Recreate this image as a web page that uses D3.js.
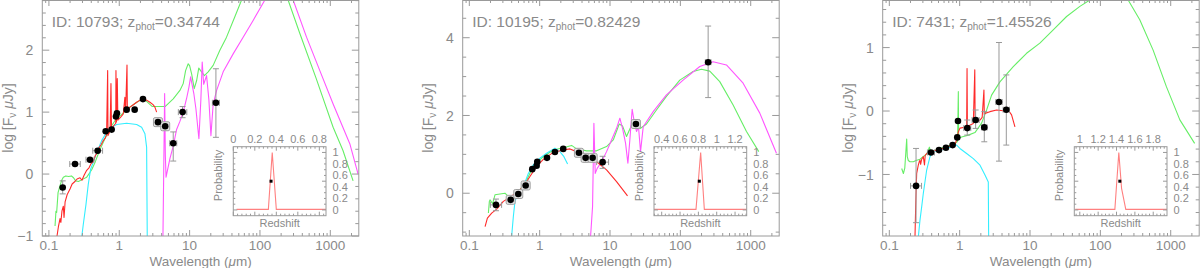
<!DOCTYPE html>
<html><head><meta charset="utf-8">
<script src="https://cdn.jsdelivr.net/npm/d3@7"></script>
<style>
html,body{margin:0;padding:0;background:#fff;}
svg{display:block;font-family:"Liberation Sans",Arial,sans-serif;}
</style></head><body>
<svg id="c" width="1200" height="268"></svg>
<script>
// ---------------- DATA ----------------
// curves and points: [log10 wavelength (um), log F_nu (uJy)]
const ids = ["10793", "10195", "7431"];
const zphot = ["0.34744", "0.82429", "1.45526"];
const wavelengthTicks = [0.1, 1, 10, 100, 1000];
const wavelengthTickLabels = ["0.1", "1", "10", "100", "1000"];
const fluxTicks1 = [-1, 0, 1, 2];
const fluxTicks2 = [0, 2, 4];
const fluxTicks3 = [-1, 0, 1];
const zTicks1 = [0, 0.2, 0.4, 0.6, 0.8];
const zTickLabels1 = ["0", "0.2", "0.4", "0.6", "0.8"];
const zTicks2 = [0.4, 0.6, 0.8, 1, 1.2];
const zTickLabels2 = ["0.4", "0.6", "0.8", "1", "1.2"];
const zTicks3 = [1, 1.2, 1.4, 1.6, 1.8];
const zTickLabels3 = ["1", "1.2", "1.4", "1.6", "1.8"];
const probTicks = [0, 0.2, 0.4, 0.6, 0.8, 1];
const probTickLabels = ["0", "0.2", "0.4", "0.6", "0.8", "1"];

// Panel 1
const green1 = [[-0.913,-0.84],[-0.9,-0.6],[-0.89,-0.62],[-0.87,-0.3],[-0.84,-0.18],[-0.818,-0.1],[-0.795,-0.05],[-0.76,-0.03],[-0.72,-0.04],[-0.68,-0.03],[-0.65,-0.06],[-0.62,-0.11],[-0.58,-0.12],[-0.53,-0.09],[-0.463,-0.05],[-0.42,0.02],[-0.392,0.07],[-0.34,0.2],[-0.28,0.38],[-0.2,0.58],[-0.12,0.76],[-0.05,0.88],[0.05,0.98],[0.15,1.08],[0.25,1.16],[0.34,1.22],[0.40,1.16],[0.47,1.09],[0.651,1.09],[0.767,1.215],[0.862,1.35],[0.909,1.46],[0.943,1.67],[0.98,1.78],[1.0,1.75],[1.03,1.61],[1.066,1.38],[1.10,1.51],[1.13,1.71],[1.17,1.65],[1.21,1.59],[1.264,1.65],[1.335,1.755],[1.43,2.0],[1.525,2.21],[1.643,2.54],[1.739,2.81],[1.85,3.1],[2.05,3.3],[2.3,3.1],[2.40,2.81],[2.567,2.27],[2.8,1.54],[3.04,0.755],[3.18,0.38],[3.324,-0.11]];
const magenta1 = [[0.62,-1.1],[0.645,1.3],[0.655,0.3],[0.665,-0.05],[0.72,0.25],[0.767,0.45],[0.815,0.72],[0.862,0.85],[0.909,1.0],[0.957,1.22],[0.99,1.40],[1.014,1.57],[1.043,1.40],[1.06,1.3],[1.09,1.05],[1.132,0.57],[1.16,1.2],[1.179,1.81],[1.20,1.45],[1.241,1.59],[1.274,1.2],[1.303,0.62],[1.335,1.13],[1.384,1.35],[1.477,1.65],[1.619,1.94],[1.761,2.21],[1.903,2.48],[2.07,2.81],[2.27,3.1],[2.472,2.81],[2.662,2.21],[2.851,1.67],[3.04,1.13],[3.277,0.49],[3.395,0.0]];
const cyan1 = [[-0.535,-1.03],[-0.511,-0.81],[-0.473,-0.49],[-0.44,-0.16],[-0.407,0.08],[-0.369,0.19],[-0.321,0.35],[-0.25,0.54],[-0.179,0.675],[-0.108,0.755],[-0.037,0.80],[0.105,0.82],[0.247,0.80],[0.318,0.755],[0.365,0.65],[0.389,0.43],[0.398,-1.03]];
const red1 = [[-0.889,-1.03],[-0.865,-0.85],[-0.842,-0.72],[-0.83,-0.78],[-0.815,-0.6],[-0.795,-0.52],[-0.785,-0.70],[-0.77,-0.45],[-0.74,-0.33],[-0.70,-0.24],[-0.67,-0.16],[-0.63,-0.12],[-0.60,-0.08],[-0.558,-0.06],[-0.53,-0.1],[-0.5,-0.02],[-0.463,0.06],[-0.43,0.1],[-0.40,0.17],[-0.37,0.2],[-0.34,0.3],[-0.32,0.33],[-0.29,0.42],[-0.26,0.47],[-0.227,0.54],[-0.2,0.58],[-0.18,0.64],[-0.165,1.67],[-0.16,0.62],[-0.13,0.70],[-0.118,1.46],[-0.11,0.72],[-0.08,0.78],[-0.05,0.82],[-0.047,1.67],[-0.04,0.84],[-0.028,1.54],[-0.02,0.87],[0.02,0.92],[0.057,0.97],[0.08,1.24],[0.09,1.0],[0.11,1.76],[0.115,1.03],[0.152,1.08],[0.2,1.12],[0.247,1.16],[0.29,1.19],[0.34,1.215],[0.39,1.19],[0.436,1.16],[0.48,1.12],[0.507,1.08],[0.531,1.0]];
// points: [log10 wavelength, log F, x error (dex), y low, y high]
const pts1 = [[-0.804,-0.216,0,-0.32,-0.11],[-0.629,0.162,0.075,0.162,0.162],[-0.416,0.231,0.057,0.231,0.231],[-0.307,0.377,0.07,0.377,0.377],[-0.193,0.691,0,0.691,0.691],[-0.108,0.718,0,0.718,0.718],[-0.047,0.929,0,0.929,0.929],[-0.033,0.98,0,0.98,0.98],[0.105,1.04,0,1.04,1.04],[0.219,1.04,0,1.04,1.04],[0.337,1.21,0,1.21,1.21],[0.55,0.838,0,0.838,0.838],[0.653,0.772,0,0.772,0.772],[0.767,0.497,0.05,0.21,0.68],[0.90,1.0,0.06,0.91,1.09],[1.374,1.15,0.05,0.593,1.70]];
const boxed1 = [11, 12];
const pz1 = [[0.03,0.01],[0.326,0.01],[0.362,1.0],[0.40,0.01],[0.862,0.01]];
const zdot1 = [0.351, 0.5];

// Panel 2
const green2 = [[-0.729,-0.51],[-0.715,-0.21],[-0.706,-0.17],[-0.668,-0.27],[-0.635,-0.04],[-0.564,-0.02],[-0.493,0.0],[-0.445,-0.09],[-0.374,-0.10],[-0.28,0.09],[-0.185,0.34],[-0.09,0.69],[0.052,0.94],[0.194,1.11],[0.336,1.17],[0.454,1.23],[0.525,1.14],[0.667,1.09],[0.809,1.09],[0.951,1.2],[1.046,1.37],[1.131,1.78],[1.178,1.73],[1.235,1.46],[1.282,1.65],[1.33,1.87],[1.386,1.78],[1.434,1.67],[1.519,1.78],[1.66,2.14],[1.802,2.49],[1.992,2.91],[2.181,3.13],[2.3,3.19],[2.418,3.14],[2.56,2.87],[2.75,2.27],[2.94,1.59],[3.115,1.07]];
const magenta2 = [[0.724,-1.10],[0.752,-0.34],[0.771,1.80],[0.79,0.51],[0.818,0.64],[0.88,0.81],[0.951,1.07],[1.022,1.37],[1.093,1.67],[1.14,1.93],[1.178,1.67],[1.221,1.29],[1.254,0.77],[1.282,1.37],[1.315,2.16],[1.344,1.84],[1.377,1.59],[1.405,1.71],[1.434,1.07],[1.472,1.71],[1.614,2.10],[1.802,2.53],[2.039,2.91],[2.276,3.26],[2.465,3.38],[2.655,3.30],[2.892,2.83],[3.129,2.06],[3.366,1.03]];
const cyan2 = [[-0.398,-1.10],[-0.374,-0.60],[-0.351,-0.21],[-0.327,-0.09],[-0.289,0.04],[-0.232,0.17],[-0.161,0.51],[-0.09,0.73],[0.004,0.90],[0.099,1.03],[0.217,1.16],[0.288,1.07],[0.345,0.94],[0.397,0.75]];
const red2 = [[-0.776,-0.86],[-0.743,-0.64],[-0.682,-0.51],[-0.611,-0.41],[-0.516,-0.21],[-0.421,-0.10],[-0.327,0.02],[-0.232,0.17],[-0.138,0.43],[-0.043,0.69],[0.052,0.87],[0.194,1.05],[0.336,1.11],[0.431,1.14],[0.525,1.07],[0.667,0.94],[0.809,0.81],[0.951,0.60],[1.093,0.30],[1.249,-0.07]];
const pts2 = [[-0.621,-0.30,0.08,-0.45,-0.15],[-0.412,-0.17,0.05,-0.17,-0.17],[-0.304,-0.02,0,-0.02,-0.02],[-0.199,0.2,0,0.2,0.2],[-0.105,0.62,0,0.62,0.62],[-0.043,0.71,0,0.71,0.71],[-0.034,0.81,0,0.81,0.81],[0.104,0.91,0,0.91,0.91],[0.217,1.06,0,1.06,1.06],[0.335,1.14,0,1.14,1.14],[0.558,1.04,0,1.04,1.04],[0.653,0.91,0,0.91,0.91],[0.753,0.91,0,0.91,0.91],[0.895,0.80,0.085,0.64,0.95],[1.368,1.78,0,1.78,1.78],[2.395,3.37,0.04,2.46,4.3]];
const boxed2 = [1, 2, 3, 10, 11, 12, 14];
const pz2 = [[0.316,0.01],[0.774,0.01],[0.825,1.0],[0.865,0.01],[1.327,0.01]];
const zdot2 = [0.81, 0.5];

// Panel 3
const green3 = [[-0.824,-0.906],[-0.80,-0.985],[-0.78,-0.90],[-0.753,-0.44],[-0.745,-0.72],[-0.73,-0.78],[-0.706,-0.80],[-0.659,-0.80],[-0.62,-0.78],[-0.564,-0.76],[-0.52,-0.72],[-0.469,-0.68],[-0.43,-0.57],[-0.41,-0.66],[-0.374,-0.63],[-0.28,-0.59],[-0.185,-0.56],[-0.09,-0.52],[-0.053,-0.50],[-0.03,-0.48],[-0.019,0.305],[-0.015,-0.43],[0.028,-0.41],[0.123,-0.38],[0.217,-0.34],[0.312,-0.19],[0.383,0.016],[0.454,0.25],[0.572,0.46],[0.762,0.70],[0.951,0.91],[1.14,1.07],[1.33,1.28],[1.52,1.49],[1.709,1.65],[1.851,1.75],[2.05,1.85],[2.25,1.83],[2.395,1.75],[2.56,1.44],[2.75,0.96],[2.94,0.38],[3.13,-0.14],[3.34,-0.51]];
const cyan3 = [[-0.588,-1.99],[-0.564,-1.72],[-0.54,-1.51],[-0.517,-1.30],[-0.469,-0.93],[-0.422,-0.72],[-0.374,-0.64],[-0.232,-0.606],[-0.09,-0.553],[-0.043,-0.537],[0.004,-0.59],[0.099,-0.67],[0.194,-0.75],[0.289,-0.853],[0.36,-1.01],[0.407,-1.12],[0.412,-1.99]];
const red3 = [[-0.635,-1.99],[-0.625,-1.5],[-0.62,-1.3],[-0.611,-0.985],[-0.6,-0.92],[-0.588,-0.853],[-0.575,-0.80],[-0.564,-0.774],[-0.555,-0.84],[-0.54,-0.76],[-0.517,-0.72],[-0.50,-0.85],[-0.49,-0.70],[-0.469,-0.67],[-0.44,-0.66],[-0.398,-0.64],[-0.34,-0.62],[-0.28,-0.606],[-0.22,-0.585],[-0.16,-0.56],[-0.11,-0.54],[-0.067,-0.52],[-0.043,-0.46],[-0.019,-0.33],[0.004,-0.27],[0.05,-0.26],[0.099,-0.25],[0.105,0.67],[0.11,-0.24],[0.15,-0.22],[0.194,-0.195],[0.215,0.65],[0.22,-0.18],[0.25,-0.16],[0.289,-0.142],[0.32,-0.1],[0.345,0.33],[0.35,-0.05],[0.36,-0.037],[0.43,-0.01],[0.525,0.016],[0.62,0.005],[0.69,0.016],[0.738,-0.06],[0.786,-0.25]];
const pts3 = [[-0.62,-1.18,0.078,-1.76,-0.59],[-0.408,-0.653,0.05,-0.653,-0.653],[-0.294,-0.616,0,-0.616,-0.616],[-0.195,-0.58,0,-0.58,-0.58],[-0.1,-0.537,0,-0.537,-0.537],[-0.034,-0.416,0,-0.416,-0.416],[-0.024,-0.158,0,-0.158,-0.158],[0.108,-0.269,0.05,-0.379,-0.142],[0.227,-0.142,0.05,-0.274,0.016],[0.35,-0.258,0.04,-0.485,-0.01],[0.559,0.142,0.045,-0.79,1.08],[0.663,0.021,0.045,-0.537,0.569]];
const boxed3 = [];
const pz3 = [[0.95,0.01],[1.382,0.01],[1.425,1.0],[1.455,0.376],[1.501,0.01],[1.95,0.01]];
const zdot3 = [1.436, 0.5];

// ---------------- LAYOUT ----------------
const svg = d3.select("#c");
const TXT = "#8a8a8a", FRAME = "#9a9a9a";
const COL = {green:"#66ee66", magenta:"#ff55ff", cyan:"#33eeff", red:"#ff2a2a", pz:"#ff8080"};
const PW = 316.5, PT = 0, PB = 236;
const XLOG = [-1.094, 3.405];

const panels = [
  {L:42.3, yDom:[-1,2.81], yMinor:0.2, yTicks:fluxTicks1, green:green1, magenta:magenta1, cyan:cyan1, red:red1, pts:pts1, boxed:boxed1, IL:233.3, zDom:[0,0.862], zTicks:zTicks1, zLabels:zTickLabels1, pz:pz1, zdot:zdot1},
  {L:462.7, yDom:[-1.1,4.97], yMinor:0.5, yTicks:fluxTicks2, green:green2, magenta:magenta2, cyan:cyan2, red:red2, pts:pts2, boxed:boxed2, IL:654, zDom:[0.316,1.327], zTicks:zTicks2, zLabels:zTickLabels2, pz:pz2, zdot:zdot2},
  {L:882.7, yDom:[-1.97,1.75], yMinor:0.2, yTicks:fluxTicks3, green:green3, magenta:null, cyan:cyan3, red:red3, pts:pts3, boxed:boxed3, IL:1074.3, zDom:[0.94,1.95], zTicks:zTicks3, zLabels:zTickLabels3, pz:pz3, zdot:zdot3}
];

function fmt(v){ return (v<0?"\u2212":"") + Math.abs(v); }

panels.forEach((p, i) => {
  const g = svg.append("g");
  const R = p.L + PW;
  const x = d3.scaleLog().domain([10**XLOG[0], 10**XLOG[1]]).range([p.L, R]);
  const y = d3.scaleLinear().domain(p.yDom).range([PB, PT]);
  const X = d => x(10**d);

  const cid = "clip" + i;
  svg.append("clipPath").attr("id", cid).append("rect")
    .attr("x", p.L).attr("y", PT).attr("width", PW).attr("height", PB-PT);

  // curves
  const line = d3.line().x(d => X(d[0])).y(d => y(d[1]));
  const cg = g.append("g").attr("clip-path", `url(#${cid})`);
  [["green",p.green],["magenta",p.magenta],["cyan",p.cyan],["red",p.red]].forEach(([k, arr]) => {
    if (!arr) return;
    cg.append("path").attr("d", line(arr)).attr("fill","none")
      .attr("stroke", COL[k]).attr("stroke-width", 1.1).attr("stroke-linejoin","round");
  });

  // frame
  g.append("rect").attr("x", p.L).attr("y", PT+0.5).attr("width", PW).attr("height", PB-PT-0.5)
    .attr("fill","none").attr("stroke", FRAME).attr("stroke-width", 1);

  // x ticks
  const xd = x.domain();
  for (let e=-2; e<=4; e++) for (let k=1; k<10; k++) {
    const v = k*10**e;
    if (v < xd[0] || v > xd[1]) continue;
    const len = k===1 ? 6 : 3;
    const xx = x(v);
    g.append("line").attr("x1",xx).attr("x2",xx).attr("y1",PB).attr("y2",PB-len).attr("stroke",FRAME);
    g.append("line").attr("x1",xx).attr("x2",xx).attr("y1",PT).attr("y2",PT+len).attr("stroke",FRAME);
  }
  wavelengthTicks.forEach((v, j) => {
    g.append("text").attr("x", x(v)).attr("y", 250).attr("text-anchor","middle")
      .attr("font-size", 13.5).attr("fill", TXT).text(wavelengthTickLabels[j]);
  });
  // y ticks
  const yd = p.yDom;
  const minors = d3.range(Math.ceil(yd[0]/p.yMinor)*p.yMinor, yd[1]+1e-9, p.yMinor);
  minors.forEach(v => {
    const isMajor = p.yTicks.some(t => Math.abs(t - v) < 1e-6);
    const len = isMajor ? 7 : 3.5;
    const yy = y(v);
    g.append("line").attr("x1",p.L).attr("x2",p.L+len).attr("y1",yy).attr("y2",yy).attr("stroke",FRAME);
    g.append("line").attr("x1",R).attr("x2",R-len).attr("y1",yy).attr("y2",yy).attr("stroke",FRAME);
  });
  p.yTicks.forEach(v => {
    g.append("text").attr("x", p.L-9).attr("y", y(v)).attr("dy","0.36em").attr("text-anchor","end")
      .attr("font-size", 14).attr("fill", TXT).text(fmt(v));
  });

  // axis labels
  const xl = g.append("text").attr("x", p.L + PW/2).attr("y", 265.5).attr("text-anchor","middle")
    .attr("font-size", 13.5).attr("fill", TXT);
  xl.append("tspan").text("Wavelength (");
  xl.append("tspan").attr("font-style","italic").text("\u03bc");
  xl.append("tspan").text("m)");
  const yl = g.append("text").attr("transform", `translate(${p.L-29.5},${(PT+PB)/2}) rotate(-90)`)
    .attr("text-anchor","middle").attr("font-size", 14).attr("fill", TXT);
  yl.append("tspan").text("log [F");
  yl.append("tspan").attr("font-size", 10).attr("dy", 3).text("\u03bd");
  yl.append("tspan").attr("dy", -3).text(" ");
  yl.append("tspan").attr("font-style","italic").text("\u03bc");
  yl.append("tspan").text("Jy]");

  // ID text
  const idt = g.append("text").attr("x", p.L+9.5).attr("y", 26.5).attr("font-size", 15.5).attr("fill", TXT);
  idt.append("tspan").text(`ID: ${ids[i]}; z`);
  idt.append("tspan").attr("font-size", 10).attr("dy", 3.5).text("phot");
  idt.append("tspan").attr("dy", -3.5).text("=" + zphot[i]);

  // error bars
  const eg = g.append("g").attr("stroke", "#999").attr("stroke-width", 1).attr("clip-path", `url(#${cid})`);
  p.pts.forEach(d => {
    const cx = X(d[0]), cy = y(d[1]);
    if (d[2] > 0) {
      const x0 = X(d[0]-d[2]), x1 = X(d[0]+d[2]);
      eg.append("line").attr("x1",x0).attr("x2",x1).attr("y1",cy).attr("y2",cy);
      eg.append("line").attr("x1",x0).attr("x2",x0).attr("y1",cy-3).attr("y2",cy+3);
      eg.append("line").attr("x1",x1).attr("x2",x1).attr("y1",cy-3).attr("y2",cy+3);
    }
    if (d[4] - d[3] > 0.001) {
      const y0 = y(d[3]), y1 = y(d[4]);
      eg.append("line").attr("x1",cx).attr("x2",cx).attr("y1",y0).attr("y2",y1);
      eg.append("line").attr("x1",cx-3).attr("x2",cx+3).attr("y1",y0).attr("y2",y0);
      eg.append("line").attr("x1",cx-3).attr("x2",cx+3).attr("y1",y1).attr("y2",y1);
    }
  });
  p.boxed.forEach(j => {
    const d = p.pts[j];
    g.append("rect").attr("x", X(d[0])-4.5).attr("y", y(d[1])-4.5).attr("width", 9).attr("height", 9)
      .attr("rx", 1.5).attr("fill", "#e2e2e2").attr("stroke", "#a0a0a0").attr("stroke-width", 1);
  });
  g.append("g").selectAll("circle").data(p.pts).join("circle")
    .attr("cx", d => X(d[0])).attr("cy", d => y(d[1])).attr("r", 3.3).attr("fill", "#000");

  // inset
  const IT = 146.7, IB = 215.7, IW = 92.7, IR = p.IL + IW;
  const zx = d3.scaleLinear().domain(p.zDom).range([p.IL, IR]);
  const zy = d3.scaleLinear().domain([-0.1, 1.1]).range([IB, IT]);
  const ig = g.append("g");
  const icid = "iclip" + i;
  svg.append("clipPath").attr("id", icid).append("rect").attr("x", p.IL).attr("y", IT).attr("width", IW).attr("height", IB-IT);
  ig.append("path").attr("clip-path", `url(#${icid})`)
    .attr("d", d3.line().x(d => zx(d[0])).y(d => zy(d[1]))(p.pz))
    .attr("fill","none").attr("stroke", COL.pz).attr("stroke-width", 1.1);
  ig.append("rect").attr("x", zx(p.zdot[0])-1.5).attr("y", zy(p.zdot[1])-1.5).attr("width",3).attr("height",3).attr("fill","#000");
  ig.append("rect").attr("x", p.IL).attr("y", IT).attr("width", IW).attr("height", IB-IT)
    .attr("fill","none").attr("stroke", FRAME);
  // inset x ticks
  d3.range(Math.ceil(p.zDom[0]/0.04)*0.04, p.zDom[1], 0.04).forEach(v => {
    const isMajor = p.zTicks.some(t => Math.abs(t-v) < 1e-6);
    const len = isMajor ? 4 : 2;
    const xx = zx(v);
    ig.append("line").attr("x1",xx).attr("x2",xx).attr("y1",IB).attr("y2",IB-len).attr("stroke",FRAME);
    ig.append("line").attr("x1",xx).attr("x2",xx).attr("y1",IT).attr("y2",IT+len).attr("stroke",FRAME);
  });
  p.zTicks.forEach((v, j) => {
    ig.append("text").attr("x", zx(v)).attr("y", 142.7).attr("text-anchor","middle")
      .attr("font-size", 11).attr("fill", TXT).text(p.zLabels[j]);
  });
  d3.range(0, 1.05, 0.1).forEach(v => {
    const isMajor = Math.abs(v*2 - Math.round(v*2)) < 1e-6;
    const len = isMajor ? 4 : 2;
    const yy = zy(v);
    ig.append("line").attr("x1",p.IL).attr("x2",p.IL+len).attr("y1",yy).attr("y2",yy).attr("stroke",FRAME);
    ig.append("line").attr("x1",IR).attr("x2",IR-len).attr("y1",yy).attr("y2",yy).attr("stroke",FRAME);
  });
  probTicks.forEach((v, j) => {
    ig.append("text").attr("x", IR+6.5).attr("y", zy(v)).attr("dy","0.36em")
      .attr("font-size", 11).attr("fill", TXT).text(probTickLabels[j]);
  });
  ig.append("text").attr("x", p.IL + IW/2).attr("y", 227).attr("text-anchor","middle")
    .attr("font-size", 11).attr("fill", TXT).text("Redshift");
  ig.append("text").attr("transform", `translate(${p.IL-11.5},175.5) rotate(-90)`).attr("text-anchor","middle")
    .attr("font-size", 11).attr("fill", TXT).text("Probability");
});
</script>
</body></html>
